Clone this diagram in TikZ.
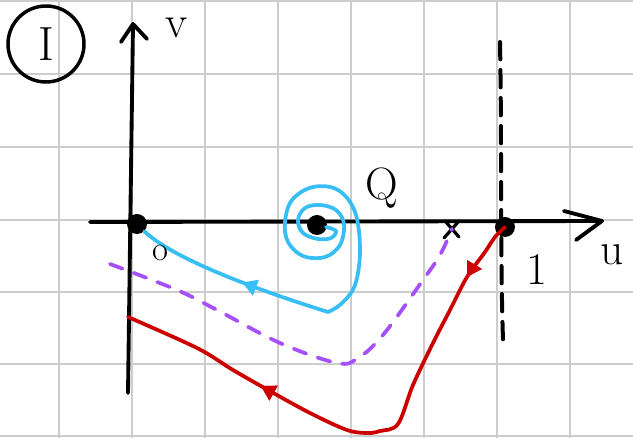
\documentclass[tikz,border=0pt]{standalone}
\usetikzlibrary{arrows.meta,decorations.markings}
\definecolor{gridgray}{RGB}{205,205,205}
\definecolor{cblue}{RGB}{55,190,245}
\definecolor{cpurple}{RGB}{165,80,250}
\definecolor{cred}{RGB}{205,0,0}
\tikzset{
  gridline/.style={gridgray,line width=1.2pt},
  axis/.style={black,line width=2.9pt,line cap=round,line join=round},
  dot/.style={circle,fill=black,inner sep=0pt,minimum size=15pt},
  traj/.style={line width=2.8pt,line cap=round,line join=round},
  lab/.style={font=\fontsize{34}{36}\selectfont,inner sep=0pt},
  midarrow/.style={postaction={decorate},decoration={markings,
     mark=at position #1 with {\arrow{Triangle[length=11pt,width=12pt]}}}}
}
\begin{document}
\begin{tikzpicture}[x=0.75pt,y=-0.75pt]
\useasboundingbox (0,0) rectangle (633,438);
\fill[white] (0,0) rectangle (633,438);
% grid
\foreach \gx in {59,132,205,278,351,424,497,570}
  \draw[gridline] (\gx,0) -- (\gx,438);
\foreach \gy in {1,74,147,220,292,364,436}
  \draw[gridline] (0,\gy) -- (633,\gy);
% dashed line u=1
\draw[black,line width=3pt,dash pattern=on 13pt off 8pt,line cap=round]
  (500,42) .. controls (502,150) and (500,250) .. (503,340);
% axes
\coordinate (ustart) at (90,222);
\coordinate (utip) at (602,221);
\coordinate (vstart) at (128,393);
\coordinate (vtip) at (133,24);
\draw[axis] (ustart) -- (utip);
\draw[axis] (vstart) -- (vtip);
\draw[axis] (564,211) -- (utip) -- (576,240);
\draw[axis] (121,42) -- (vtip) -- (147,39);
% fixed points
\node[dot] (O) at (137,224) {};
\node[dot] (Q) at (317,225) {};
\node[dot] (P) at (505,227) {};
% saddle mark X
\node (X) at (452,229) {};
\draw[axis,line width=2.4pt] (445,221) -- (459,237);
\draw[axis,line width=2.4pt] (459,221) -- (444,238);
% blue spiral
\draw[cblue,traj] plot[smooth,tension=0.6] coordinates {
  (326,227) (336,231) (331,238) (318,239) (303,233) (298,220) (305,208)
  (320,205) (336,210) (344,224) (340,245) (325,257) (303,256) (288,242)
  (285,222) (292,200) (313,187) (338,190) (355,212) (360,250) (355,285)
  (341,304) (328,312)};
\coordinate (armstart) at (328,312);
\draw[cblue,traj,midarrow=0.45] (armstart) .. controls (290,300) and (180,265) .. (O.south east);
% purple dashed
\draw[cpurple,traj,dash pattern=on 10pt off 9pt] plot[smooth,tension=0.6] coordinates {
  (110,264) (177,290) (217,310) (280,343) (337,363) (358,358) (383,335)
  (423,280) (440,255) (X.center)};
% red trajectory
\draw[cred,traj,midarrow=0.12,midarrow=0.715] plot[smooth,tension=0.55] coordinates {
  (P.center) (495,237) (485,252) (467,277) (450,310) (433,343) (413,385)
  (398,424) (380,431) (368,433) (347,430) (310,413) (268,390) (233,370)
  (197,348) (128,317)};
% labels
\node[draw,circle,line width=2.6pt,minimum width=57pt,inner sep=0pt,font=\fontsize{36}{36}\selectfont] (I) at (46,44) {I};
\node[lab] (vl) at (176,28) {v};
\node[lab] (ul) at (612,255) {u};
\node[lab] (Ql) at (382,188) {Q};
\node[lab,font=\fontsize{26}{28}\selectfont] (Ol) at (160,253) {o};
\node[lab] (onel) at (537,270) {1};
\end{tikzpicture}
\end{document}
